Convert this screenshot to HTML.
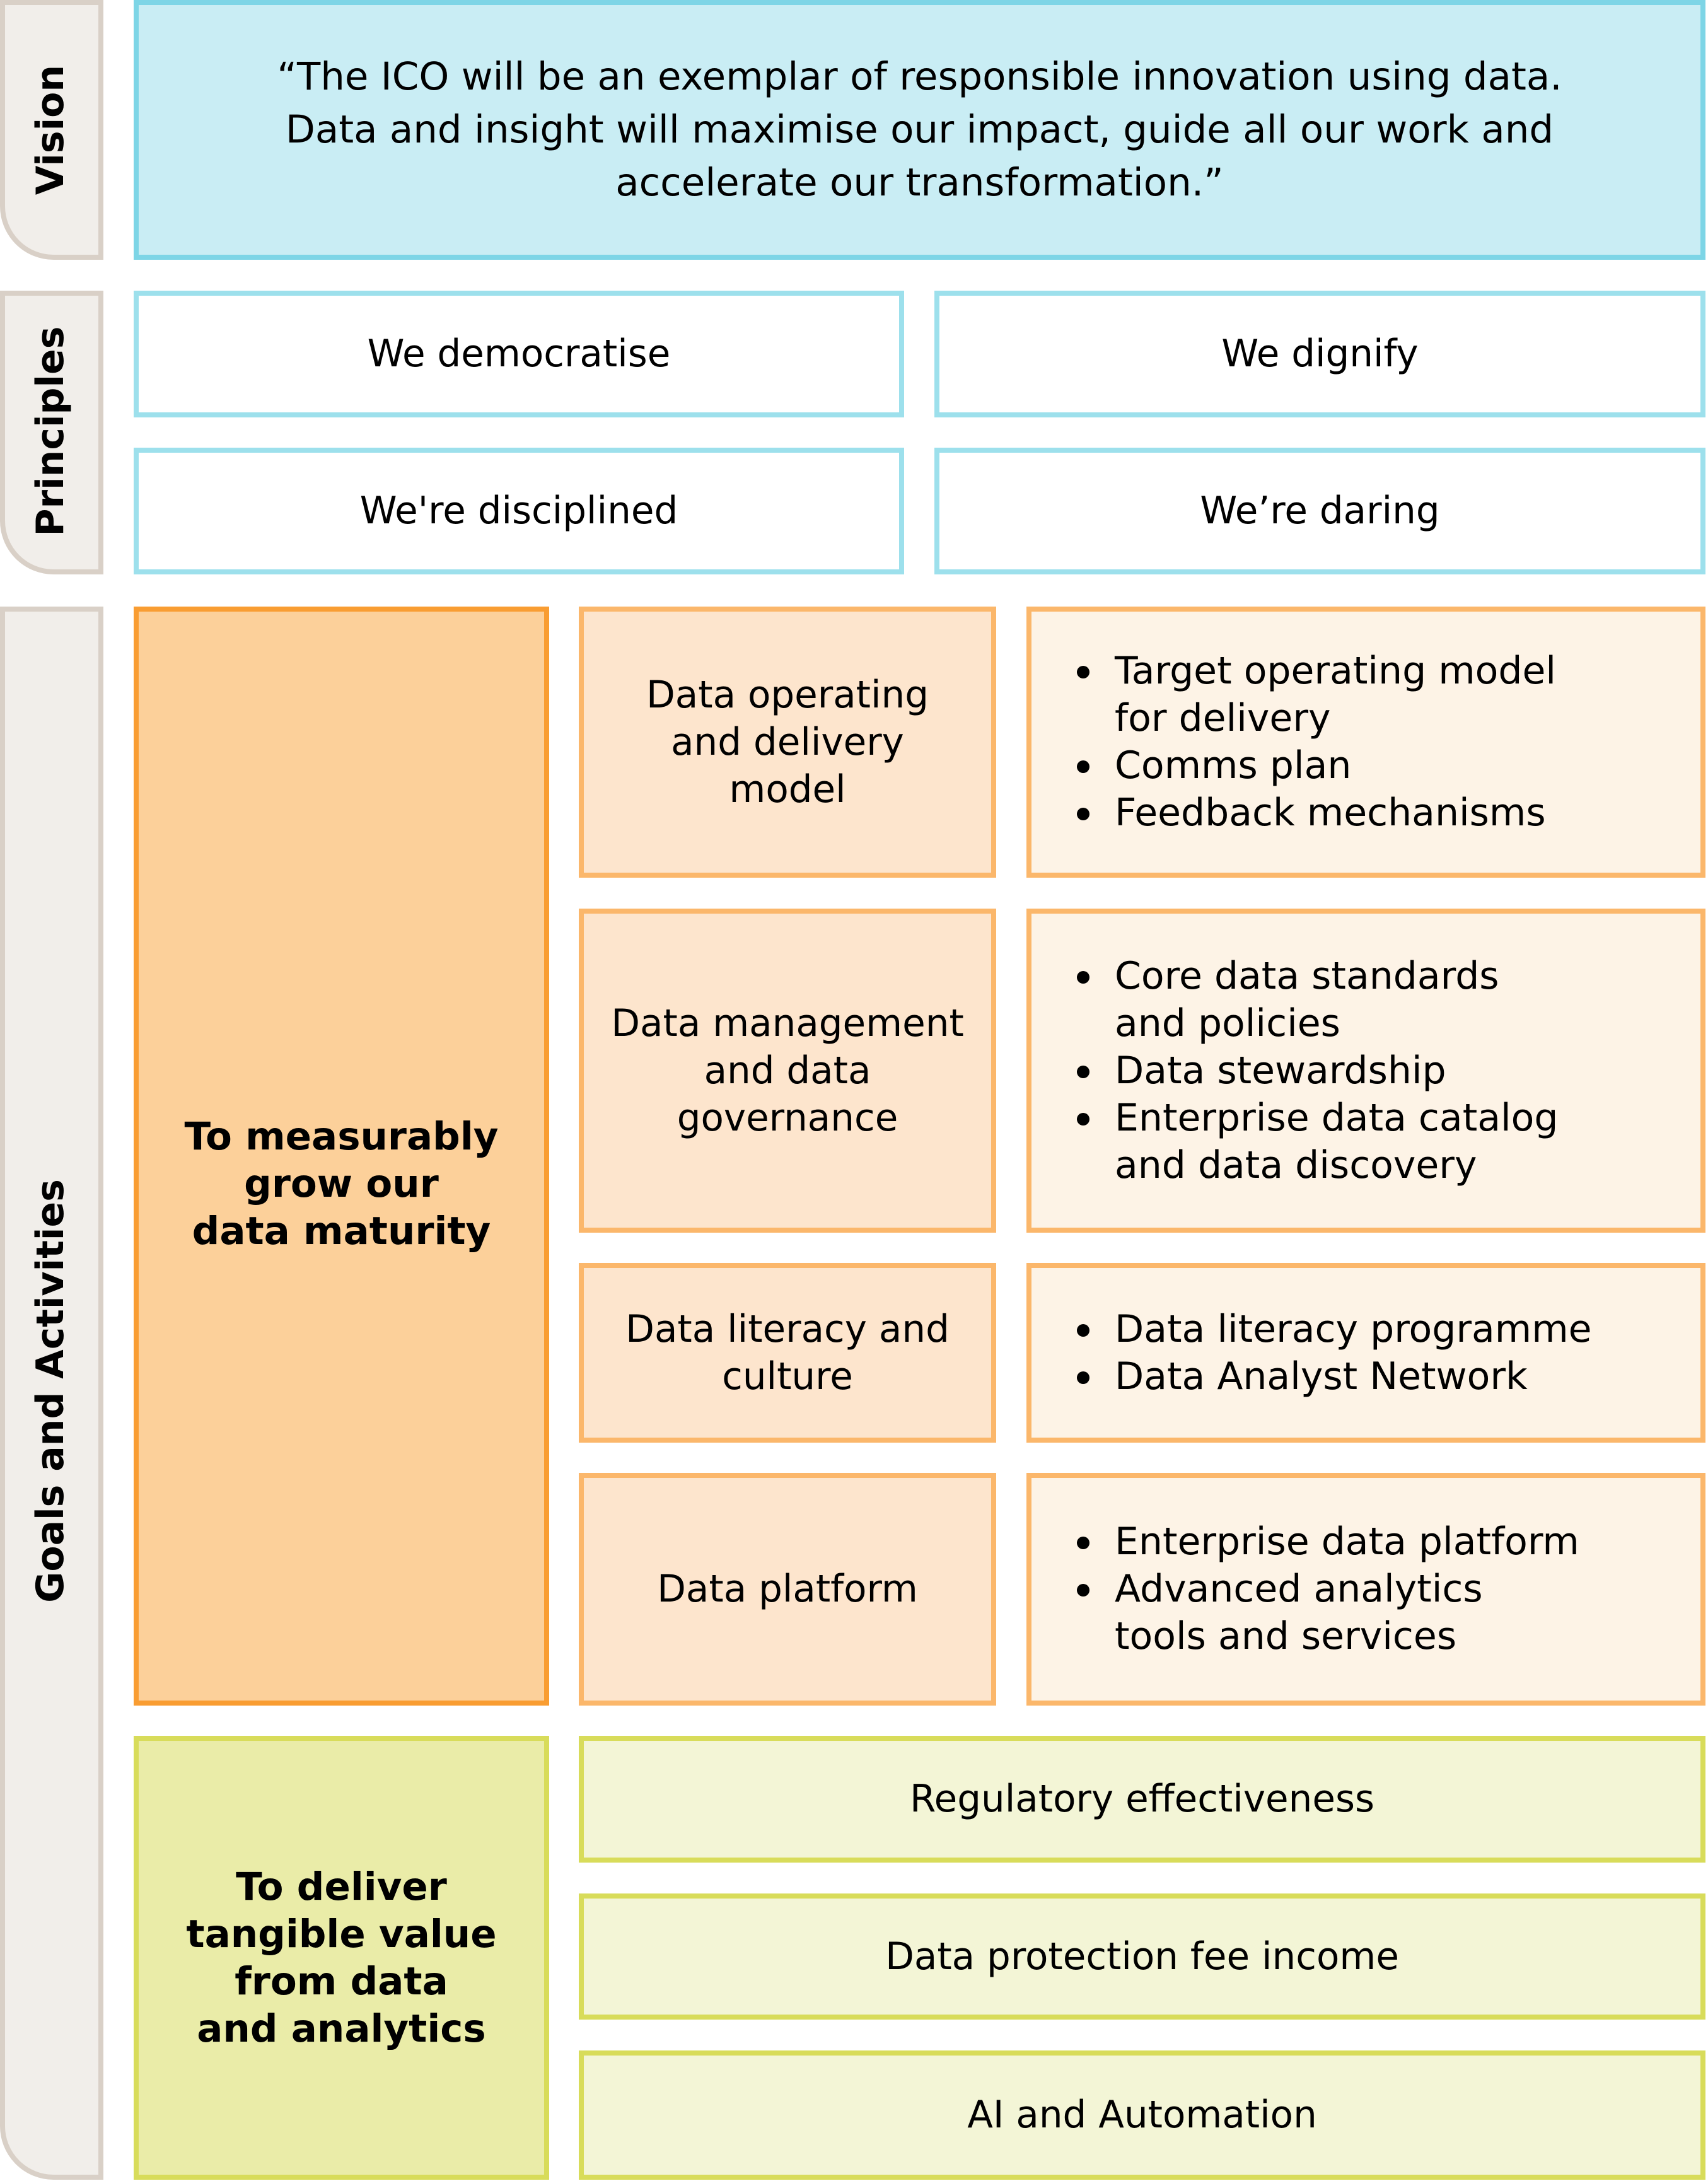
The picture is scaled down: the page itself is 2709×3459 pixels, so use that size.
<!DOCTYPE html>
<html><head><meta charset="utf-8"><style>
*{box-sizing:border-box;margin:0;padding:0}
body{width:2709px;height:3459px;background:#fff;position:relative;overflow:hidden;font-family:"DejaVu Sans","Liberation Sans",sans-serif;color:#000}
.b{position:absolute;border:8px solid;display:flex;align-items:center;justify-content:center;text-align:center;font-size:59.5px;line-height:75px}
.tab{position:absolute;left:0;width:164px;background:#f1eeea;border:8px solid #d9d0c7;border-bottom-left-radius:85px}
.vt{position:absolute;left:80px;transform:translate(-50%,-50%) rotate(-90deg);font-weight:bold;font-size:60px;white-space:nowrap}
.pr{background:#fff;border-color:#9de0ec}
.mid{background:#fde5cd;border-color:#fbb76b}
.rt{background:#fdf3e6;border-color:#fbb76b;justify-content:flex-start;text-align:left;font-size:60px}
.rt ul{list-style:none;padding-left:132px}
.rt li{position:relative}
.rt li:before{content:"";position:absolute;left:-60px;top:29px;width:20px;height:20px;border-radius:50%;background:#000}
.gr{background:#f3f5d6;border-color:#d8dc5a}
</style></head><body>
<div class="tab" style="top:0;height:412px"></div>
<div class="tab" style="top:461px;height:450px"></div>
<div class="tab" style="top:962px;height:2495px"></div>
<div class="vt" style="top:206px">Vision</div>
<div class="vt" style="top:684px">Principles</div>
<div class="vt" style="top:2206px">Goals and Activities</div>

<div class="b" style="left:212px;top:0;width:2493px;height:412px;background:#c9edf4;border-color:#7dd5e6;font-size:61px;line-height:84px">“The ICO will be an exemplar of responsible innovation using data.<br>Data and insight will maximise our impact, guide all our work and<br>accelerate our transformation.”</div>

<div class="b pr" style="left:212px;top:461px;width:1222px;height:201px">We democratise</div>
<div class="b pr" style="left:1482px;top:461px;width:1223px;height:201px">We dignify</div>
<div class="b pr" style="left:212px;top:710px;width:1222px;height:201px">We're disciplined</div>
<div class="b pr" style="left:1482px;top:710px;width:1223px;height:201px">We’re daring</div>

<div class="b" style="left:212px;top:962px;width:659px;height:1743px;background:#fcd09a;border-color:#f99d32;font-weight:bold;font-size:61px;padding-top:88px">To measurably<br>grow our<br>data maturity</div>

<div class="b mid" style="left:918px;top:962px;width:662px;height:430px">Data operating<br>and delivery<br>model</div>
<div class="b mid" style="left:918px;top:1441px;width:662px;height:514px">Data management<br>and data<br>governance</div>
<div class="b mid" style="left:918px;top:2003px;width:662px;height:285px">Data literacy and<br>culture</div>
<div class="b mid" style="left:918px;top:2336px;width:662px;height:369px">Data platform</div>

<div class="b rt" style="left:1628px;top:962px;width:1077px;height:430px"><ul><li>Target operating model<br>for delivery</li><li>Comms plan</li><li>Feedback mechanisms</li></ul></div>
<div class="b rt" style="left:1628px;top:1441px;width:1077px;height:514px"><ul><li>Core data standards<br>and policies</li><li>Data stewardship</li><li>Enterprise data catalog<br>and data discovery</li></ul></div>
<div class="b rt" style="left:1628px;top:2003px;width:1077px;height:285px"><ul><li>Data literacy programme</li><li>Data Analyst Network</li></ul></div>
<div class="b rt" style="left:1628px;top:2336px;width:1077px;height:369px"><ul><li>Enterprise data platform</li><li>Advanced analytics<br>tools and services</li></ul></div>

<div class="b" style="left:212px;top:2753px;width:659px;height:704px;background:#eaeca8;border-color:#d8dc5a;font-weight:bold;font-size:61px">To deliver<br>tangible value<br>from data<br>and analytics</div>
<div class="b gr" style="left:918px;top:2753px;width:1787px;height:201px">Regulatory effectiveness</div>
<div class="b gr" style="left:918px;top:3003px;width:1787px;height:200px">Data protection fee income</div>
<div class="b gr" style="left:918px;top:3252px;width:1787px;height:205px">AI and Automation</div>
</body></html>
